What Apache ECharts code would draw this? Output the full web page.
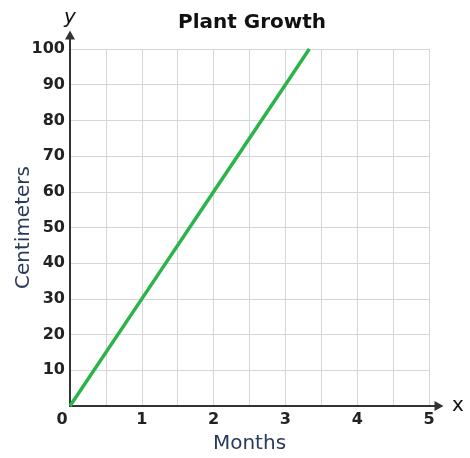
<!DOCTYPE html>
<html>
<head>
<meta charset="utf-8">
<script src="https://cdn.jsdelivr.net/npm/echarts@6/dist/echarts.min.js"></script>
<style>
  html, body { margin: 0; padding: 0; background: #fff; }
  #chart { width: 470px; height: 458px; }
</style>
</head>
<body>
<div id="chart"></div>
<script>
// plant growth: 30 cm per month, stops at 100 cm
var months = [0, 1, 2, 3, 3.333];
var centimeters = [0, 30, 60, 90, 100];
var xTicks = [0, 1, 2, 3, 4, 5];
var yTicks = [0, 10, 20, 30, 40, 50, 60, 70, 80, 90, 100];

var points = months.map(function (m, i) { return [m, centimeters[i]]; });

var font = 'DejaVu Sans';
var labelStyle = { fontFamily: font, fontSize: 16, fontWeight: 'bold', color: '#222' };
var myChart = echarts.init(document.getElementById('chart'));

// second grid only carries the arrowed axis lines, a bit longer than the plot
var arrowLine = {
  show: true, onZero: false,
  lineStyle: { color: '#333', width: 2 },
  symbol: ['none', 'triangle'], symbolSize: [10, 9]
};

var option = {
  animation: false,
  title: {
    text: 'Plant Growth',
    left: 173,
    top: 8,
    textStyle: { fontFamily: font, fontSize: 20, fontWeight: 'bold', color: '#111' }
  },
  grid: [
    { left: 70, right: 41, top: 49, bottom: 52, outerBoundsMode: 'none' },
    { left: 70, right: 31, top: 35, bottom: 52, outerBoundsMode: 'none' }
  ],
  xAxis: [
    {
      type: 'value',
      min: 0, max: 5, interval: 0.5,
      name: 'Months',
      nameLocation: 'middle',
      nameGap: 28,
      nameMoveOverlap: false,
      nameTextStyle: { fontFamily: font, fontSize: 20, color: '#2a3a5a' },
      axisLine: { show: false },
      axisTick: { show: false },
      splitLine: { show: true, lineStyle: { color: '#d6d6d6', width: 1 } },
      axisLabel: Object.assign({}, labelStyle, {
        margin: 6,
        formatter: function (v) {
          if (xTicks.indexOf(v) < 0) return '';
          return v === 0 ? '{z|0}' : String(v);
        },
        rich: { z: Object.assign({}, labelStyle, { padding: [0, 16, 0, 0] }) }
      })
    },
    {
      type: 'value', gridIndex: 1, min: 0, max: 1,
      axisLine: arrowLine,
      axisTick: { show: false }, axisLabel: { show: false }, splitLine: { show: false }
    }
  ],
  yAxis: [
    {
      type: 'value',
      min: 0, max: 100, interval: 10,
      name: 'Centimeters',
      nameLocation: 'middle',
      nameGap: 36,
      nameMoveOverlap: false,
      nameTextStyle: { fontFamily: font, fontSize: 20, color: '#2a3a5a' },
      axisLine: { show: false },
      axisTick: { show: false },
      splitLine: { show: true, lineStyle: { color: '#d6d6d6', width: 1 } },
      axisLabel: Object.assign({}, labelStyle, {
        margin: 5,
        formatter: function (v) {
          return (v === 0 || yTicks.indexOf(v) < 0) ? '' : String(v);
        }
      })
    },
    {
      type: 'value', gridIndex: 1, min: 0, max: 1,
      axisLine: arrowLine,
      axisTick: { show: false }, axisLabel: { show: false }, splitLine: { show: false }
    }
  ],
  graphic: [
    { type: 'text', left: 64, top: 8,
      style: { text: 'y', fontFamily: font, fontSize: 20, fontStyle: 'italic', fill: '#111' } },
    { type: 'text', left: 452, top: 396,
      style: { text: 'x', fontFamily: font, fontSize: 20, fill: '#111' } }
  ],
  series: [
    {
      type: 'line',
      data: points,
      showSymbol: false,
      lineStyle: { color: '#2cb34a', width: 3.5 }
    }
  ]
};

option && myChart.setOption(option);
</script>
</body>
</html>
